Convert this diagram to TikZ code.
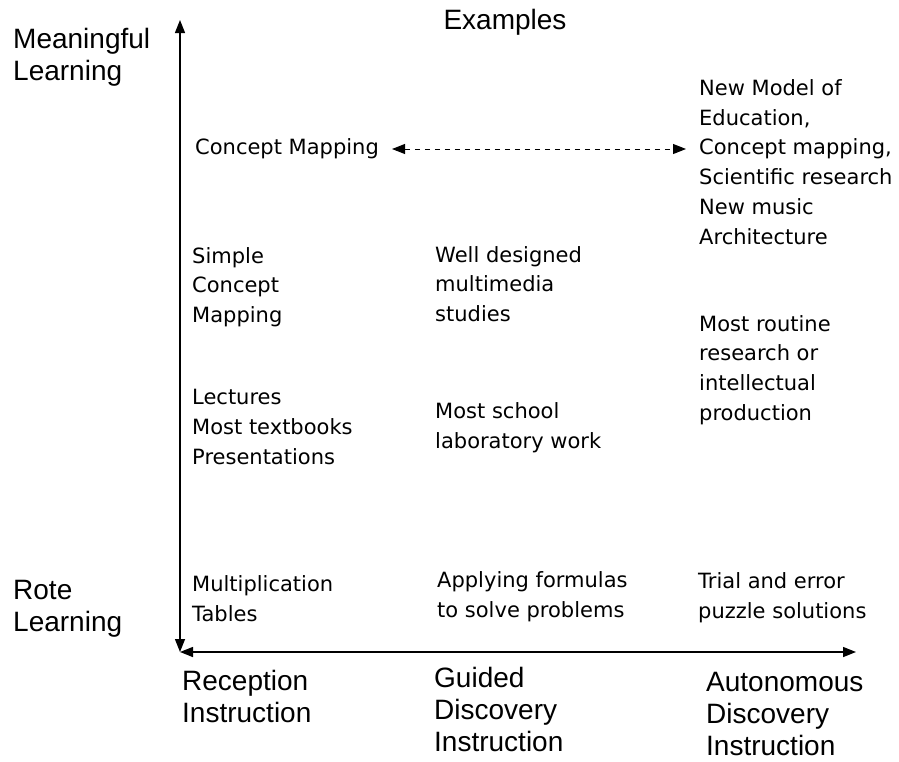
\documentclass[tikz,border=0pt]{standalone}
\usepackage{fontspec}
\usetikzlibrary{arrows.meta}
\newfontfamily\smallfont{DejaVu Sans}
\newfontfamily\bigfont{Liberation Sans}

\begin{document}
\begin{tikzpicture}[x=1pt,y=-1pt]
		\tikzstyle{small}=[anchor=west,inner sep=0pt,align=left,font=\smallfont\fontsize{21}{29.7}\selectfont]
		\tikzstyle{big}=[anchor=west,inner sep=0pt,align=left,font=\bigfont\fontsize{28}{32}\selectfont]
		\tikzstyle{axis}=[line width=1.4pt,{Triangle[length=13pt,width=10pt]}-{Triangle[length=13pt,width=10pt]}]
		\tikzstyle{link}=[line width=1pt,dash pattern=on 5pt off 5pt,{Triangle[length=13pt,width=10pt]}-{Triangle[length=13pt,width=10pt]}]

		\useasboundingbox (0,0) rectangle (899,761);

		% axes
		\coordinate (origin) at (180,652);
		\coordinate (ytop) at (180,20);
		\coordinate (xend) at (856,652);
		\draw[axis] (origin) -- (ytop);
		\draw[axis] (origin) -- (xend);

		% axis labels
		\node[big,anchor=center] (examples) at (505,22) {Examples};
		\node[big] (meaningful) at (13,57.5) {Meaningful\\Learning};
		\node[big] (rote) at (13,609) {Rote\\Learning};
		\node[big] (reception) at (182,696) {Reception\\Instruction};
		\node[big] (guided) at (434,709) {Guided\\Discovery\\Instruction};
		\node[big] (autonomous) at (706,714) {Autonomous\\Discovery\\Instruction};

		% examples
		\node[small] (cmap) at (195,149) {Concept Mapping};
		\node[small] (newmodel) at (699,162) {New Model of\\Education,\\Concept mapping,\\Scientific research\\New music\\Architecture};
		\node[small] (simple) at (192,287) {Simple\\Concept\\Mapping};
		\node[small] (welldesigned) at (435,284) {Well designed\\multimedia\\studies};
		\node[small] (routine) at (699,370) {Most routine\\research or\\intellectual\\production};
		\node[small] (lectures) at (192,427) {Lectures\\Most textbooks\\Presentations};
		\node[small] (school) at (435,427.5) {Most school\\laboratory work};
		\node[small] (multiplication) at (192,599) {Multiplication\\Tables};
		\node[small] (formulas) at (437,596.5) {Applying formulas\\to solve problems};
		\node[small] (trial) at (698,598) {Trial and error\\puzzle solutions};

		\draw[link] ([xshift=13pt]cmap.east) -- ([xshift=-13pt]cmap.east -| newmodel.west);
	\end{tikzpicture}
\end{document}
